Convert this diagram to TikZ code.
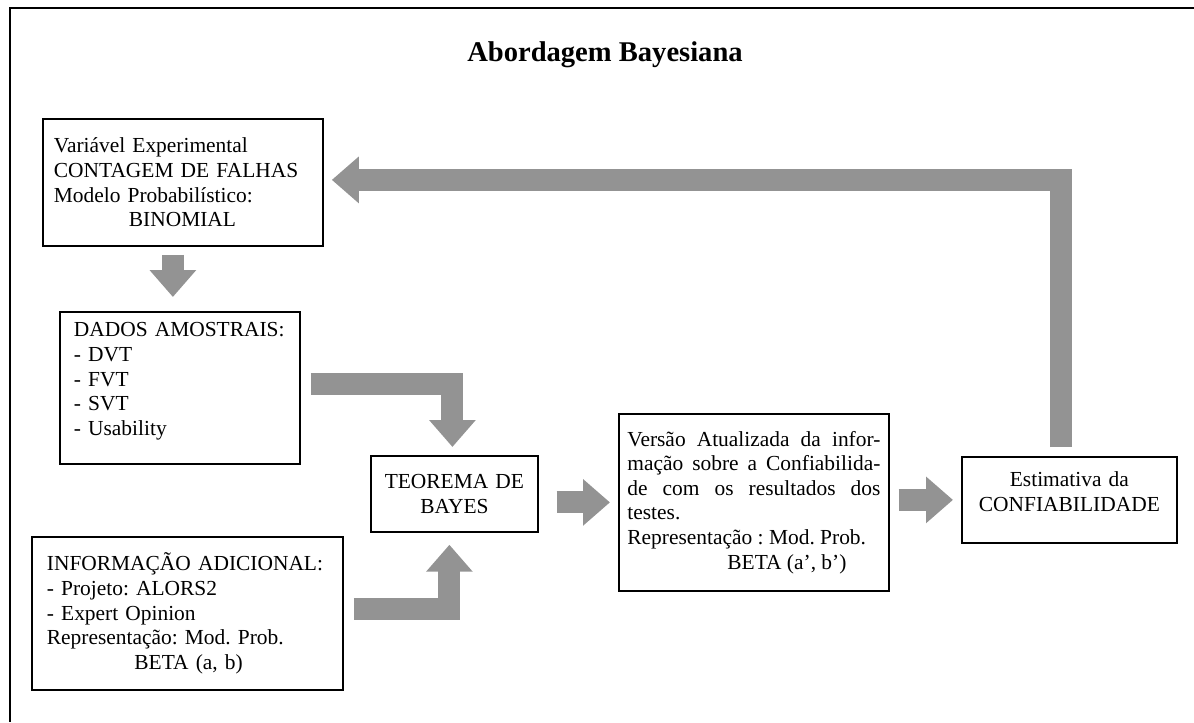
\documentclass[tikz,border=0pt]{standalone}
\usepackage{fontspec}
\setmainfont{Liberation Serif}
\usetikzlibrary{arrows.meta, calc}
\definecolor{arrowgray}{RGB}{147,147,147}
\newlength\pxl
\setlength\pxl{0.56pt}
\frenchspacing

\begin{document}
\begin{tikzpicture}[x=1\pxl, y=-1\pxl,
    box/.style={draw, line width=1pt, anchor=north west, inner sep=0pt,
      font=\fontsize{12}{13.8}\selectfont},
    fatarrow/.style={draw=arrowgray, line width=12.3pt, line join=miter,
      -{Triangle[length=15.1pt, width=25.2pt]}}]
  \useasboundingbox (0,0) rectangle (1194,722);
  % frame
  \draw[line width=1.1pt] (1194,8) -- (10,8) -- (10,722);
  \node[font=\bfseries\fontsize{16}{19}\selectfont] (title) at (605,55) {Abordagem Bayesiana};

  % boxes
  \node[box, minimum width=280\pxl, minimum height=127\pxl, text width=258\pxl, align=left] (var) at (42,118)
    {Variável Experimental\\CONTAGEM DE FALHAS\\Modelo Probabilístico:\\\hspace*{42pt}BINOMIAL};
  \node[box, minimum width=240\pxl, minimum height=152\pxl, text width=212\pxl, align=left, text depth=65pt] (dados) at (59,311)
    {DADOS AMOSTRAIS:\\- DVT\\- FVT\\- SVT\\- Usability};
  \node[box, minimum width=311\pxl, minimum height=153\pxl, text width=281\pxl, align=left] (info) at (31,536)
    {INFORMAÇÃO ADICIONAL:\\- Projeto: ALORS2\\- Expert Opinion\\Representação: Mod. Prob.\\\hspace*{49pt}BETA (a, b)};
  \node[box, minimum width=167\pxl, minimum height=76\pxl, text width=140\pxl, align=center] (teorema) at (370,455)
    {TEOREMA DE\\BAYES};
  \node[box, minimum width=270\pxl, minimum height=177\pxl, text width=253\pxl, align=justify] (versao) at (618,413)
    {Versão Atualizada da infor-\linebreak mação sobre a Confiabilida-\linebreak de com os resultados dos\linebreak testes.\\Representação : Mod. Prob.\\\hspace*{56pt}BETA (a’, b’)};
  \node[box, minimum width=215\pxl, minimum height=86\pxl, text width=190\pxl, align=center, text depth=23.4pt] (estim) at (961,456)
    {Estimativa da\\CONFIABILIDADE};

  % fat arrows
  \draw[fatarrow] ($(var.south)+(-10,8)$) -- ($(dados.north)+(-7,-14)$);
  \draw[fatarrow, shorten <=5.6pt, shorten >=4.5pt] ([yshift=2.2pt]dados.east) -| ([xshift=-1.1pt]teorema.north);
  \draw[fatarrow, shorten <=5.6pt, shorten >=6.7pt] ([yshift=2.2pt]info.east) -| ([xshift=-2.8pt]teorema.south);
  \draw[fatarrow, shorten <=10pt, shorten >=4.5pt] (teorema.east |- versao.west) -- (versao.west);
  \draw[fatarrow, shorten <=5pt, shorten >=4.5pt] (versao.east |- estim.west) -- (estim.west);
  \draw[fatarrow, shorten <=5pt, shorten >=4.5pt] ([xshift=-4.5pt]estim.north) |- ([yshift=1.4pt]var.east);
\end{tikzpicture}
\end{document}
